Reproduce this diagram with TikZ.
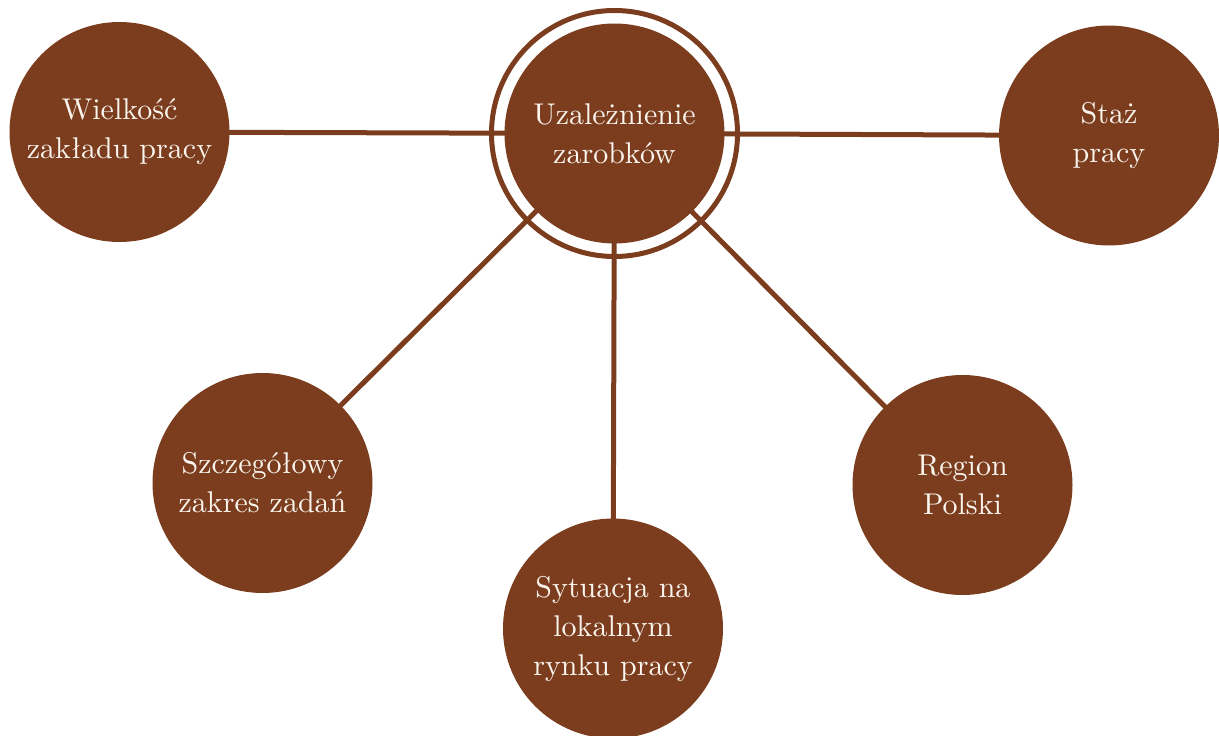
\documentclass[tikz,border=0pt]{standalone}
\usepackage{fontspec}
\setmainfont{lmroman10-regular}[Extension=.otf]
\usetikzlibrary{backgrounds}
\definecolor{brn}{RGB}{123,61,29}
\definecolor{txt}{RGB}{250,245,238}
\begin{document}
\begin{tikzpicture}[x=1pt,y=-1pt,
  bubble/.style={circle, fill=brn, minimum size=220pt, inner sep=0pt, text=txt,
    align=center, font=\rmfamily\fontsize{30}{39}\selectfont},
  ringstyle/.style={circle, draw=brn, line width=5pt, minimum size=246pt, inner sep=0pt},
  link/.style={draw=brn, line width=5pt}]
\useasboundingbox (0,0) rectangle (1219,736);
\node[ringstyle] (ring) at (614.5,133.5) {};
\node[bubble] (c) at (614.5,133.5) {Uzależnienie\\zarobków};
\node[bubble] (w) at (119.5,132) {Wielkość\\zakładu pracy};
\node[bubble] (s) at (1109,135.5) {Staż\\pracy};
\node[bubble] (z) at (262.5,483) {Szczegółowy\\zakres zadań};
\node[bubble] (r) at (962.5,485) {Region\\Polski};
\node[bubble] (l) at (613,628.5) {Sytuacja na\\lokalnym\\rynku pracy};
\begin{scope}[on background layer]
\draw[link] (c.center) -- (w.center);
\draw[link] (c.center) -- (s.center);
\draw[link] (c.center) -- (z.center);
\draw[link] (c.center) -- (r.center);
\draw[link] (c.center) -- (l.center);
\end{scope}
\end{tikzpicture}
\end{document}
